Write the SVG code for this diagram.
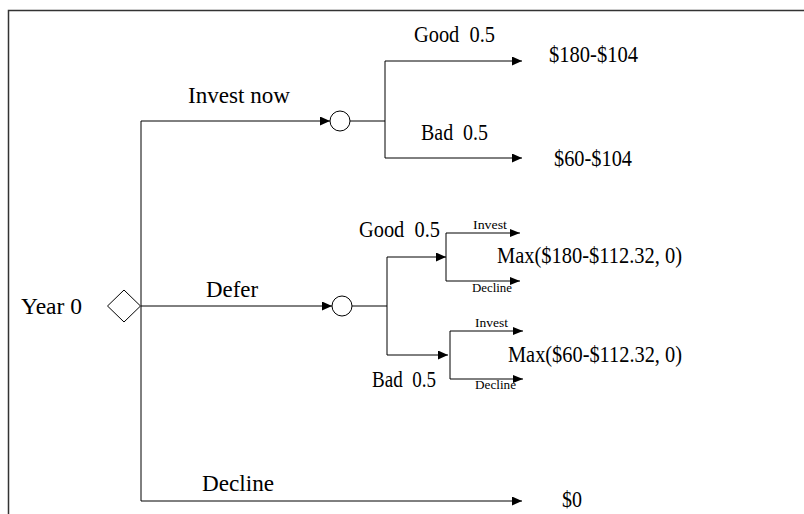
<svg xmlns="http://www.w3.org/2000/svg" width="804" height="514" viewBox="0 0 804 514">
<defs>
<marker id="arr" markerUnits="userSpaceOnUse" markerWidth="11" markerHeight="10" refX="10" refY="4.5" orient="auto">
<path d="M0,0 L10,4.5 L0,9 z" fill="#000"/>
</marker>
<marker id="arrs" markerUnits="userSpaceOnUse" markerWidth="11" markerHeight="9" refX="10" refY="4" orient="auto">
<path d="M0,0 L10,4 L0,8 z" fill="#000"/>
</marker>
</defs>
<style>
text{font-family:"Liberation Serif","Times New Roman",serif;fill:#000}
.l{font-size:24px}
.s{font-size:13px}
.c line,.c polyline{stroke:#000;stroke-width:1;fill:none}
.a{marker-end:url(#arr)}
.as{marker-end:url(#arrs)}
.n{fill:#fff;stroke:#000;stroke-width:1}
</style>
<rect width="804" height="514" fill="#fff"/>
<polyline points="8.5,514 8.5,10.5 804,10.5" fill="none" stroke="#333" stroke-width="1.5"/>
<g id="connectors" class="c">
<polyline points="141,306 141,121 330,121" class="a"/>
<line x1="141" y1="306" x2="332" y2="306" class="a"/>
<polyline points="141,306 141,501 522,501" class="a"/>
<line x1="350" y1="121" x2="385" y2="121"/>
<polyline points="385,121 385,61 522,61" class="a"/>
<polyline points="385,121 385,158 522,158" class="a"/>
<line x1="352" y1="306" x2="387" y2="306"/>
<polyline points="387,306 387,257 446,257" class="a"/>
<polyline points="387,306 387,355 448,355" class="a"/>
<polyline points="446,257 446,233 520,233" class="as"/>
<polyline points="446,257 446,281 520,281" class="as"/>
<polyline points="450,355 450,331 523,331" class="as"/>
<polyline points="450,355 450,379 523,379" class="as"/>
</g>
<g id="year0">
<polygon class="n" points="107.5,306 124,290 140.5,306 124,322"/>
<text class="l" x="21" y="314" textLength="61" lengthAdjust="spacingAndGlyphs">Year 0</text>
</g>
<g id="chance-invest">
<circle class="n" cx="340" cy="121" r="10"/>
</g>
<g id="chance-defer">
<circle class="n" cx="342" cy="306" r="10"/>
</g>
<g id="labels">
<text class="l" x="188" y="103" textLength="102" lengthAdjust="spacingAndGlyphs">Invest now</text>
<text class="l" x="206" y="297" textLength="52" lengthAdjust="spacingAndGlyphs">Defer</text>
<text class="l" x="202" y="491" textLength="72" lengthAdjust="spacingAndGlyphs">Decline</text>
<text class="l" x="414" y="42" textLength="81" lengthAdjust="spacingAndGlyphs" xml:space="preserve">Good  0.5</text>
<text class="l" x="421" y="140" textLength="67" lengthAdjust="spacingAndGlyphs" xml:space="preserve">Bad  0.5</text>
<text class="l" x="359" y="237" textLength="81" lengthAdjust="spacingAndGlyphs" xml:space="preserve">Good  0.5</text>
<text class="l" x="372" y="387" textLength="64" lengthAdjust="spacingAndGlyphs" xml:space="preserve">Bad  0.5</text>
<text class="s" x="473" y="229" textLength="34" lengthAdjust="spacingAndGlyphs">Invest</text>
<text class="s" x="472" y="292" textLength="40" lengthAdjust="spacingAndGlyphs">Decline</text>
<text class="s" x="475" y="327" textLength="33" lengthAdjust="spacingAndGlyphs">Invest</text>
<text class="s" x="475" y="389" textLength="41" lengthAdjust="spacingAndGlyphs">Decline</text>
</g>
<g id="payoffs">
<text class="l" x="549" y="62" textLength="89" lengthAdjust="spacingAndGlyphs">$180-$104</text>
<text class="l" x="554" y="166" textLength="78" lengthAdjust="spacingAndGlyphs">$60-$104</text>
<text class="l" x="497" y="263" textLength="185" lengthAdjust="spacingAndGlyphs">Max($180-$112.32, 0)</text>
<text class="l" x="508" y="362" textLength="174" lengthAdjust="spacingAndGlyphs">Max($60-$112.32, 0)</text>
<text class="l" x="562" y="507" textLength="20" lengthAdjust="spacingAndGlyphs">$0</text>
</g>
</svg>
